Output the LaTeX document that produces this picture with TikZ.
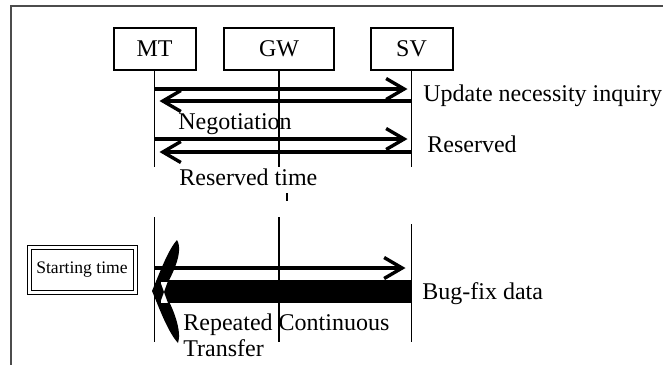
\documentclass[tikz,border=0pt]{standalone}
\usepackage{fontspec}
\setmainfont{Liberation Serif}
\usetikzlibrary{arrows.meta,positioning}

\begin{document}
\begin{tikzpicture}[
    x=0.5pt, y=-0.5pt,
    ent/.style={draw=black, line width=1pt, minimum height=21pt, inner sep=0pt, font=\fontsize{12}{14}\selectfont},
    life/.style={line width=0.7pt},
    msg/.style={-{Straight Barb[length=9pt, width=10.5pt]}, line width=1.7pt},
    lbl/.style={inner sep=0pt, anchor=base west, font=\fontsize{12}{13}\selectfont},
    startbox/.style={draw=black, line width=0.5pt, double, double distance=1.5pt, minimum width=53pt, minimum height=22.5pt, inner sep=0pt, font=\fontsize{8.8}{10}\selectfont},
    frame/.style={draw=black!70, line width=1pt}
  ]
    \useasboundingbox (0,0) rectangle (663,365);
    \draw[frame] (663,6) -- (11,6) -- (11,365);

    % entities
    \node[ent, minimum width=41pt] (mt) at (154.5,49) {MT};
    \node[ent, minimum width=55pt] (gw) at (279,49) {GW};
    \node[ent, minimum width=41pt] (sv) at (411.5,49) {SV};

    % rows
    \coordinate (upEnd) at (0,167);
    \coordinate (loTop) at (0,217);
    \coordinate (loEnd) at (0,342);
    \coordinate (r1) at (0,89);
    \coordinate (r2) at (0,101);
    \coordinate (r3) at (0,139);
    \coordinate (r4) at (0,152);
    \coordinate (r5) at (0,268);

    % lifelines
    \draw[life] (mt.south) -- (mt.south |- upEnd);
    \draw[life] (gw.south) -- (gw.south |- upEnd);
    \draw[life] (sv.south) -- (sv.south |- upEnd);
    \draw[life] (287,193) -- (287,201);
    \draw[life] (mt.south |- loTop) -- (mt.south |- loEnd);
    \draw[life] (gw.south |- loTop) -- (gw.south |- loEnd);
    \draw[life] (sv.south |- 0,224) -- (sv.south |- loEnd);

    % messages
    \draw[msg, shorten >=2pt] (mt.south |- r1) -- (sv.south |- r1);
    \draw[msg, shorten >=2.5pt] (sv.south |- r2) -- (mt.south |- r2);
    \draw[msg, shorten >=2pt] (mt.south |- r3) -- (sv.south |- r3);
    \draw[msg, shorten >=2.5pt] (sv.south |- r4) -- (mt.south |- r4);
    \draw[msg, shorten >=3pt] (mt.south |- r5) -- (sv.south |- r5);

    % continuous transfer
    \fill (168,280) rectangle (sv.south |- 0,303);
    \fill (177,240) .. controls (168,250) and (160,272) .. (152,291)
      .. controls (160,310) and (168,332) .. (178,343)
      .. controls (182,332) and (174,308) .. (163,291)
      .. controls (172,276) and (184,252) .. (177,240) -- cycle;
    \filldraw[fill=white, line width=0.3pt] (160,281) rectangle (168,303);
    \fill (160,281) -- (164,292) -- (160,303) -- cycle;
    \fill (168,281) -- (164,292) -- (168,303) -- cycle;

    % labels
    \node[lbl] (inq) at (423,101) {Update necessity inquiry};
    \node[lbl] (neg) at (178,129) {Negotiation};
    \node[lbl] (res) at (427,152) {Reserved};
    \node[lbl] (rtime) at (179,185) {Reserved time};
    \node[lbl] (bug) at (422,299) {Bug-fix data};
    \node[lbl, align=left] (rep) at (183,356) {Repeated Continuous\\Transfer};
    \node[startbox] (start) at (82,269.5) {Starting time};
  \end{tikzpicture}
\end{document}
